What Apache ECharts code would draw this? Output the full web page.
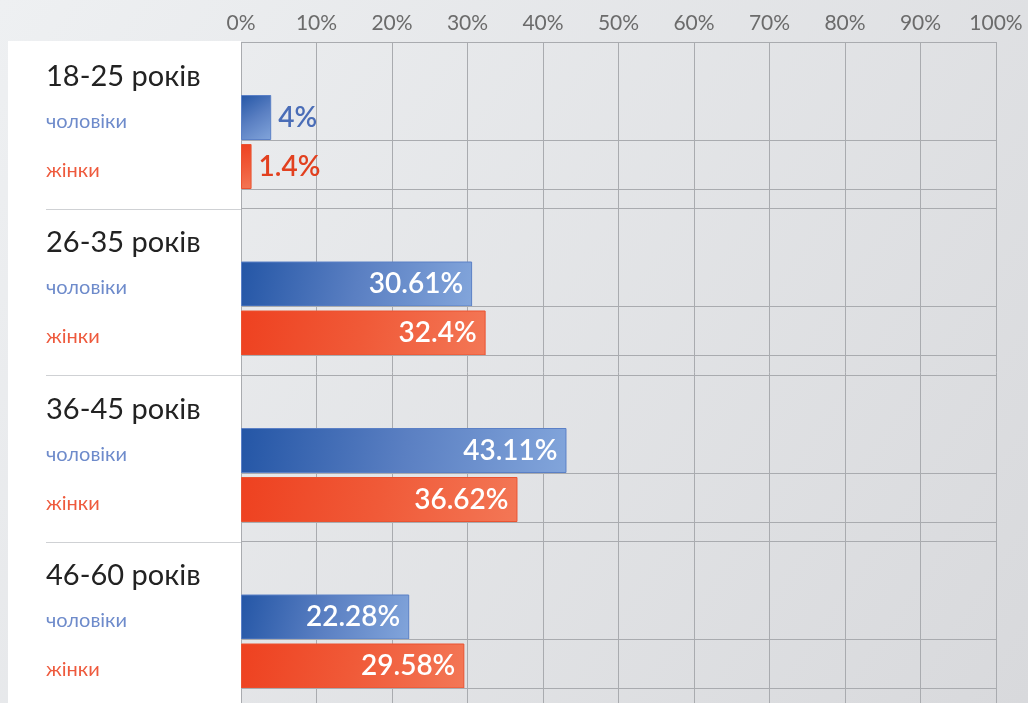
<!DOCTYPE html>
<html lang="uk">
<head>
<meta charset="utf-8">
<title>Розподіл за віком</title>
<script src="https://cdn.jsdelivr.net/npm/echarts@6/dist/echarts.min.js"></script>
<style>
  html, body { margin: 0; padding: 0; }
  #chart { width: 1028px; height: 703px; }
</style>
</head>
<body>
<div id="chart"></div>
<script>
// Data
const ageGroups = ['18-25 років', '26-35 років', '36-45 років', '46-60 років'];
const rowLabels = ['чоловіки', 'жінки'];
const menValues = [4, 30.61, 43.11, 22.28];
const womenValues = [1.4, 32.4, 36.62, 29.58];
const axisMax = 100;
const axisStep = 10;

// Layout (pixels)
const plotLeft = 241;
const plotRight = 32;
const plotTop = 42;
const groupStep = 166.5;
const groupHeight = 147;
const textLeft = 46;

const FONT = 'Lato';
const GRID_LINE = '#a9abaf';

const palette = {
  men: { from: '#2456a6', mid: '#5a7fc2', to: '#82a5db', border: '#5b80c6', text: '#4a6db7', axis: '#6e8bcb' },
  women: { from: '#ee4120', mid: '#f05a38', to: '#f37756', border: '#ea5331', text: '#e2401f', axis: '#ee5a3d' }
};

function barItem(value, c) {
  const inside = value >= 10;
  return {
    value: value,
    itemStyle: {
      color: new echarts.graphic.LinearGradient(0, 0, 1, 1, [
        { offset: 0, color: c.from },
        { offset: 0.5, color: c.mid },
        { offset: 1, color: c.to }
      ]),
      borderColor: c.border,
      borderWidth: 1
    },
    label: {
      show: true,
      position: inside ? 'insideRight' : 'right',
      distance: inside ? 9 : 7,
      color: inside ? '#ffffff' : c.text,
      fontFamily: FONT,
      fontSize: 28,
      fontWeight: 600,
      formatter: (p) => p.value + '%'
    }
  };
}

// Background grid: top axis labels and vertical lines
const grids = [{ left: plotLeft, right: plotRight, top: plotTop, bottom: 0 }];
const xAxes = [{
  gridIndex: 0,
  type: 'value',
  position: 'top',
  min: 0,
  max: axisMax,
  interval: axisStep,
  axisLine: { show: false },
  axisTick: { show: false },
  axisLabel: { formatter: '{value}%', color: '#6b6b6b', fontFamily: FONT, fontSize: 21, margin: 8 },
  splitLine: { show: true, lineStyle: { color: GRID_LINE, width: 1 } }
}];
const yAxes = [{ gridIndex: 0, type: 'value', show: false }];
const series = [];
const panelLines = [];

ageGroups.forEach((group, i) => {
  const gi = i + 1;
  const top = plotTop + i * groupStep;
  grids.push({ left: plotLeft, right: plotRight, top: top, height: groupHeight });
  xAxes.push({ gridIndex: gi, type: 'value', min: 0, max: axisMax, show: false });
  yAxes.push({
    gridIndex: gi,
    type: 'category',
    inverse: true,
    data: [group].concat(rowLabels),
    z: 5,
    axisLine: { show: false },
    axisTick: { show: false },
    // no line between the header row and the first bar
    splitLine: { show: true, interval: (idx) => idx !== 1, lineStyle: { color: GRID_LINE, width: 1 } },
    axisLabel: {
      interval: 0,
      align: 'left',
      margin: plotLeft - textLeft,
      fontFamily: FONT,
      formatter: (value, idx) => ['{h|', '{m|', '{w|'][idx] + value + '}',
      rich: {
        h: { fontFamily: FONT, fontSize: 29, color: '#222222', padding: [20, 0, 0, 0] },
        m: { fontFamily: FONT, fontSize: 20, color: palette.men.axis, padding: [12, 0, 0, 0] },
        w: { fontFamily: FONT, fontSize: 20, color: palette.women.axis, padding: [12, 0, 0, 0] }
      }
    }
  });
  // thin empty series pushes the real bar down to the row's bottom line
  series.push({ type: 'bar', xAxisIndex: gi, yAxisIndex: gi, barWidth: 4, barGap: 0, data: [], silent: true });
  series.push({
    type: 'bar',
    xAxisIndex: gi,
    yAxisIndex: gi,
    barWidth: 45,
    barGap: 0,
    data: ['-', barItem(menValues[i], palette.men), barItem(womenValues[i], palette.women)]
  });
  if (i > 0) {
    panelLines.push({
      type: 'line',
      shape: { x1: textLeft, y1: Math.round(top) + 0.5, x2: plotLeft, y2: Math.round(top) + 0.5 },
      style: { stroke: '#cfd1d4', lineWidth: 1 }
    });
  }
});

const chart = echarts.init(document.getElementById('chart'));
chart.setOption({
  animation: false,
  backgroundColor: new echarts.graphic.LinearGradient(0, 0, 1, 1, [
    { offset: 0, color: '#eef0f2' },
    { offset: 1, color: '#d8d9dc' }
  ]),
  graphic: {
    elements: [
      { type: 'rect', z: -1, shape: { x: 8, y: plotTop - 1, width: plotLeft - 8, height: 703 }, style: { fill: '#ffffff' } }
    ].concat(panelLines)
  },
  grid: grids,
  xAxis: xAxes,
  yAxis: yAxes,
  series: series
});
</script>
</body>
</html>
